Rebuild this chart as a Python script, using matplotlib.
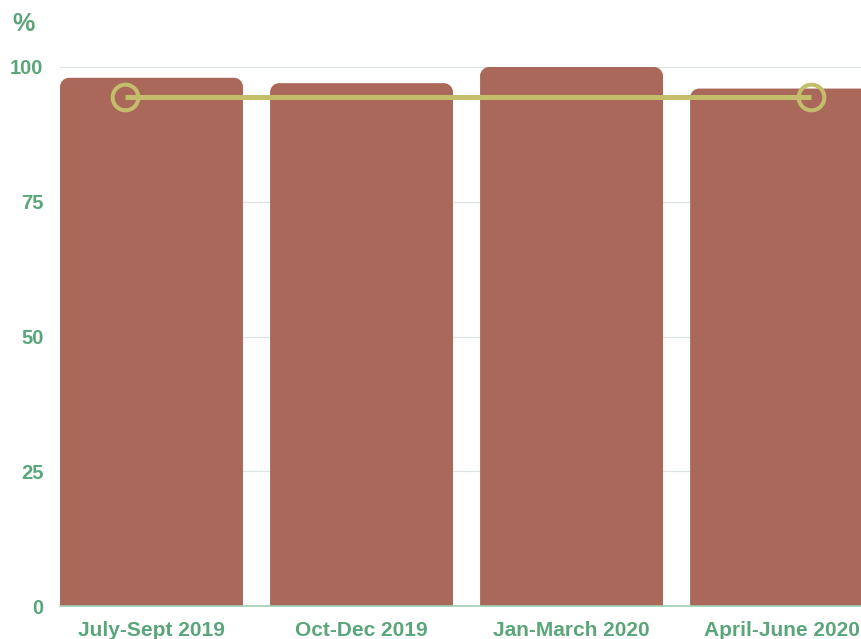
import matplotlib
matplotlib.use("Agg")
import matplotlib.pyplot as plt
from matplotlib.path import Path
from matplotlib.patches import PathPatch
from matplotlib import font_manager

categories = ["July-Sept 2019", "Oct-Dec 2019", "Jan-March 2020", "April-June 2020"]
bar_values = [98, 97, 100, 96]
line_x = [-0.126, 3.14]
line_values = [94.5, 94.5]
y_ticks = [0, 25, 50, 75, 100]

BAR = "#a9685a"
LINE = "#c4be6c"
GREEN = "#5aa67a"

names = {f.name for f in font_manager.fontManager.ttflist}
narrow = "Liberation Sans Narrow" if "Liberation Sans Narrow" in names else "Liberation Sans"

W, H = 862, 639
fig = plt.figure(figsize=(W / 100, H / 100), dpi=100)
ax = fig.add_axes([60 / W, (H - 606) / H, (W - 60) / W, (606 - 67) / H])

x = list(range(len(categories)))
bars = ax.bar(x, bar_values, width=0.871, color=BAR, zorder=2)
ax.set_xlim(-0.4357, 3.383)
ax.set_ylim(0, 100)

# rounded top corners
px_per_x = ax.get_position().width * W / (3.383 + 0.4357)
px_per_y = ax.get_position().height * H / 100
r = 9
rx, ry = r / px_per_x, r / px_per_y
for b in bars:
    x0, w, h = b.get_x(), b.get_width(), b.get_height()
    x1 = x0 + w
    k = 0.5523
    verts = [(x0, 0), (x0, h - ry),
             (x0, h - ry + k * ry), (x0 + rx - k * rx, h), (x0 + rx, h),
             (x1 - rx, h),
             (x1 - rx + k * rx, h), (x1, h - ry + k * ry), (x1, h - ry),
             (x1, 0), (x0, 0)]
    codes = [Path.MOVETO, Path.LINETO,
             Path.CURVE4, Path.CURVE4, Path.CURVE4,
             Path.LINETO,
             Path.CURVE4, Path.CURVE4, Path.CURVE4,
             Path.LINETO, Path.CLOSEPOLY]
    p = PathPatch(Path(verts, codes), facecolor=BAR, edgecolor="none", zorder=2, clip_on=False)
    ax.add_patch(p)
    b.remove()

ax.plot(line_x, line_values, color=LINE, lw=3.6, zorder=3, solid_capstyle="butt")
ax.plot(line_x, line_values, linestyle="none", marker="o", markersize=18.5,
        markerfacecolor="none", markeredgecolor=LINE, markeredgewidth=2.9, zorder=4)

ax.set_yticks(y_ticks)
ax.yaxis.grid(True, color="#dde3e0", lw=0.9, zorder=0)
ax.set_axisbelow(True)
for s in ["top", "right", "left"]:
    ax.spines[s].set_visible(False)
ax.spines["bottom"].set_color("#9fcfb0")
ax.spines["bottom"].set_linewidth(1.2)
ax.spines["bottom"].set_zorder(5)

ax.tick_params(axis="both", length=0)
ax.tick_params(axis="y", pad=12, labelsize=14.5, labelcolor=GREEN)
ax.tick_params(axis="x", pad=11, labelsize=14.5, labelcolor=GREEN)
for t in ax.get_yticklabels():
    t.set_fontfamily("Liberation Sans")
    t.set_fontweight("bold")
ax.set_xticks(x)
ax.set_xticklabels(categories, fontfamily=narrow, fontweight="bold", fontsize=15)

fig.text(12 / W, 1 - 24 / H, "%", color=GREEN, fontsize=18, fontweight="bold",
         fontfamily="Liberation Sans", va="center", ha="left")

fig.savefig("out.png", dpi=100)
